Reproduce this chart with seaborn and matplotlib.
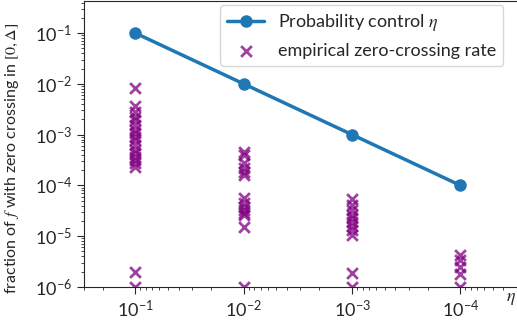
import numpy as np
import pandas as pd
import matplotlib
matplotlib.use("Agg")
import matplotlib.pyplot as plt
import seaborn as sns

# probability control eta and the empirical zero-crossing rates per eta
ETA = [1e-1, 1e-2, 1e-3, 1e-4]

RATES_1 = [8.3e-3, 3.6e-3, 2.8e-3, 2.2e-3, 1.95e-3, 1.55e-3, 1.23e-3, 1.07e-3,
           8.9e-4, 7.8e-4, 6.3e-4, 5.0e-4, 4.4e-4, 3.6e-4, 3.2e-4, 2.7e-4,
           2.3e-4, 2.0e-6, 1e-6]
RATES_2 = [4.6e-4, 4.0e-4, 2.7e-4, 2.2e-4, 1.8e-4, 1.6e-4, 5.6e-5, 4.5e-5,
           3.7e-5, 3.3e-5, 2.9e-5, 2.6e-5, 1.5e-5, 1e-6]
RATES_3 = [5.4e-5, 4.1e-5, 3.3e-5, 2.6e-5, 2.3e-5, 1.9e-5, 1.6e-5, 1.3e-5,
           1.05e-5, 1.9e-6, 1e-6]
RATES_4 = [4.3e-6, 3.4e-6, 2.5e-6, 1.8e-6, 1e-6]

sns.set_style("ticks")
plt.rcParams["font.family"] = ["Lato", "DejaVu Sans"]
plt.rcParams["mathtext.fontset"] = "stix"
plt.rcParams["font.size"] = 13
plt.rcParams["xtick.major.size"] = 5
plt.rcParams["ytick.major.size"] = 5

control = pd.DataFrame({"eta": ETA, "rate": ETA})
rows = []
for eta, rates in zip(ETA, [RATES_1, RATES_2, RATES_3, RATES_4]):
    for r in rates:
        rows.append({"eta": eta, "rate": r})
empirical = pd.DataFrame(rows)

fig = plt.figure(figsize=(5.17, 3.22), dpi=100)
ax = fig.add_axes([0.162, 0.109, 0.838, 0.888])

sns.lineplot(data=control, x="eta", y="rate", ax=ax, color="#1f77b4",
             linewidth=2.5, marker="o", markersize=9, markeredgewidth=0,
             label=r"Probability control $\eta$")
sns.scatterplot(data=empirical, x="eta", y="rate", ax=ax, color="purple",
                marker="x", s=60, linewidth=2, alpha=0.75,
                label="empirical zero-crossing rate")

ax.set_xscale("log")
ax.set_yscale("log")
ax.set_xlim(0.3, 3e-5)
ax.set_ylim(1e-6, 0.43)
ax.set_xticks(ETA)
ax.set_ylabel(r"fraction of $f$ with zero crossing in $[0, \Delta]$",
              fontsize=11.5)
ax.yaxis.set_label_coords(-0.145, 0.45)
ax.set_xlabel(r"$\eta$")
ax.xaxis.set_label_coords(0.985, -0.015)
ax.xaxis.label.set_verticalalignment("top")
ax.spines["right"].set_visible(False)

ax.legend(loc="upper left", bbox_to_anchor=(0.315, 0.985), fontsize=13,
          framealpha=0.8, borderaxespad=0)

fig.savefig("out.png", dpi=100)
